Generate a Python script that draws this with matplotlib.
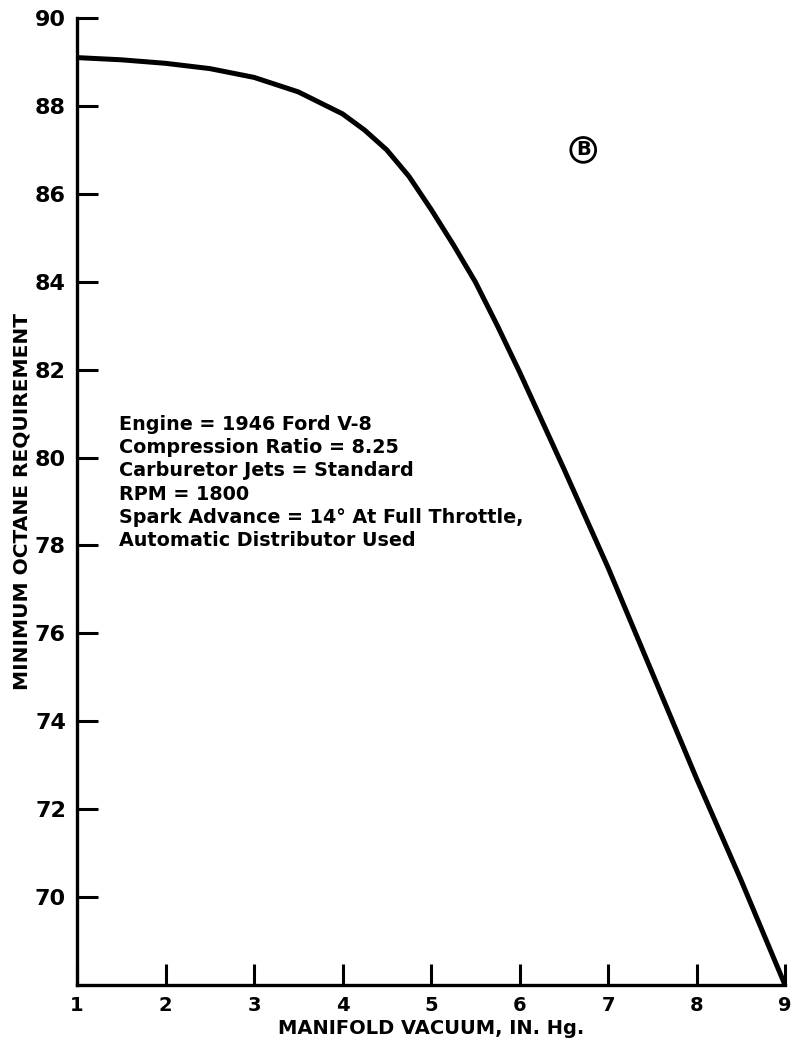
import matplotlib
matplotlib.use("Agg")
import matplotlib.pyplot as plt

vacuum = [1, 1.5, 2, 2.5, 3, 3.5, 4, 4.25, 4.5, 4.75, 5, 5.25, 5.5, 5.75, 6, 6.5, 7, 7.5, 8, 8.5, 9]
octane = [89.1, 89.05, 88.97, 88.85, 88.65, 88.32, 87.82, 87.45, 87.0, 86.4, 85.65, 84.85, 84.0, 83.0, 81.95, 79.75, 77.5, 75.1, 72.7, 70.4, 68.0]

x_ticks = [1, 2, 3, 4, 5, 6, 7, 8, 9]
y_ticks = [70, 72, 74, 76, 78, 80, 82, 84, 86, 88, 90]

notes = ["Engine = 1946 Ford V-8",
         "Compression Ratio = 8.25",
         "Carburetor Jets = Standard",
         "RPM = 1800",
         "Spark Advance = 14° At Full Throttle,",
         "Automatic Distributor Used"]

plt.rcParams['font.family'] = ['DejaVu Sans']
fig = plt.figure(figsize=(8.03, 10.43), dpi=100)
ax = fig.add_axes([0.0959, 0.0556, 0.8817, 0.9271])

ax.plot(vacuum, octane, color='black', lw=3.6, solid_capstyle='round', solid_joinstyle='round')

ax.set_xlim(1, 9)
ax.set_ylim(68, 90)
ax.set_xticks(x_ticks)
ax.set_yticks(y_ticks)
ax.set_xticklabels([str(v) for v in x_ticks], fontsize=14, fontweight='bold')
ax.set_yticklabels([str(v) for v in y_ticks], fontsize=16, fontweight='bold')
ax.tick_params(axis='both', direction='in', length=15, width=2.2, color='black')
ax.tick_params(axis='y', pad=8)
ax.tick_params(axis='x', pad=8)

for s in ['top', 'right']:
    ax.spines[s].set_visible(False)
for s in ['left', 'bottom']:
    ax.spines[s].set_linewidth(2.4)

ax.set_xlabel("MANIFOLD VACUUM, IN. Hg.", fontsize=14, fontweight='bold', labelpad=3)
ax.set_ylabel("MINIMUM OCTANE REQUIREMENT", fontsize=14.5, fontweight='bold', labelpad=2)

ax.text(1.47, 80.96, "\n".join(notes), fontsize=13.8, fontweight='bold', va='top', ha='left',
        linespacing=1.27)

ax.text(6.72, 87.0, "B", fontsize=14, fontweight='bold', ha='center', va='center',
        bbox=dict(boxstyle='circle,pad=0.15', fc='white', ec='black', lw=2))

fig.savefig("out.png", dpi=100)
